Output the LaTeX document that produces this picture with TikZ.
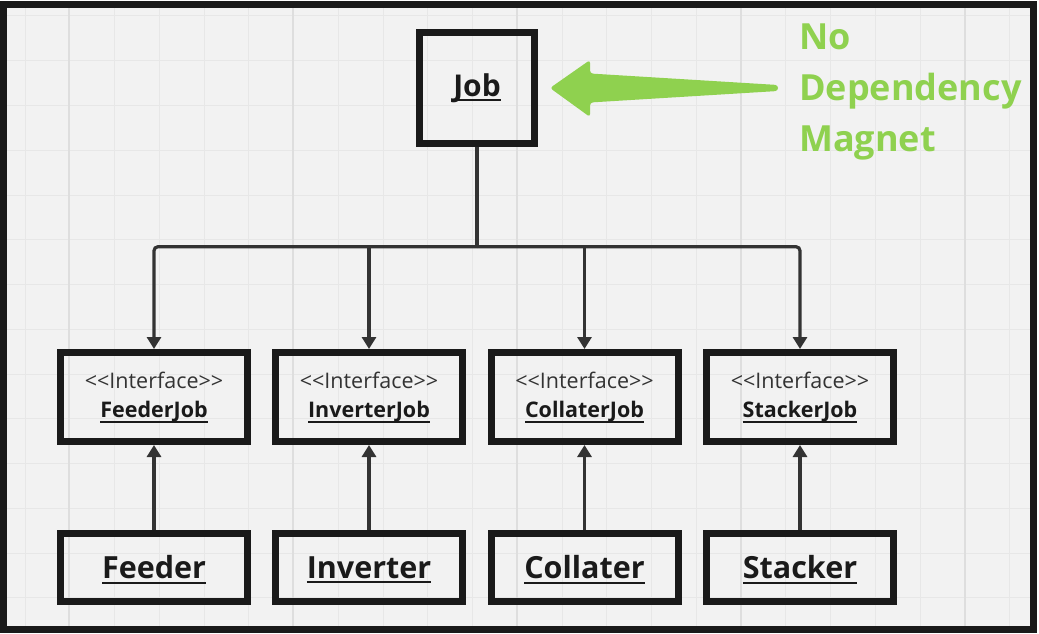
\documentclass[tikz,border=0pt]{standalone}
\usepackage{fontspec}
\setmainfont{Open Sans}
\usetikzlibrary{arrows.meta,calc,positioning}
\definecolor{BoxClr}{HTML}{1A1A1A}
\definecolor{LineClr}{HTML}{333333}
\definecolor{NoteClr}{HTML}{8FD14F}
\definecolor{PaperClr}{HTML}{F2F2F2}
\definecolor{GridClr}{HTML}{E7E7E7}
\definecolor{MajorClr}{HTML}{DEDEDE}
\newcommand{\ulname}[1]{\setbox0\hbox{#1}\rlap{\smash{\rule[-5pt]{\wd0}{2.2pt}}}\box0}
\newcommand{\stereo}{<\kern0pt<Interface>\kern0pt>}

\begin{document}
\begin{tikzpicture}[x=1pt,y=-1pt,
  jobbox/.style={draw=BoxClr,line width=7pt,minimum width=115pt,minimum height=111pt,
    inner sep=0pt,text=BoxClr,font=\fontsize{30}{36}\selectfont\bfseries},
  ifacebox/.style={draw=BoxClr,line width=7pt,minimum width=187pt,minimum height=89pt,
    inner sep=0pt,align=center,text=BoxClr,font=\fontsize{21.5}{29.5}\selectfont},
  implbox/.style={draw=BoxClr,line width=7pt,minimum width=187pt,minimum height=68pt,
    inner sep=0pt,text=BoxClr,font=\fontsize{30.5}{36}\selectfont\bfseries},
  conn/.style={draw=LineClr,line width=3.2pt},
  tip/.style={-{Triangle[width=14pt,length=12pt]}},
  note/.style={text=NoteClr,align=left,inner sep=0pt,font=\fontsize{36}{51}\selectfont\bfseries}]

% paper, grid and frame
\fill[white] (0,0) rectangle (1039,634);
\fill[PaperClr] (3.5,5) rectangle (1033.5,629);
\foreach \x in {0,...,22} \draw[GridClr,line width=1pt] (25+44.75*\x,5) -- (25+44.75*\x,629);
\foreach \y in {0,...,13} \draw[GridClr,line width=1pt] (3.5,16+44.75*\y) -- (1033.5,16+44.75*\y);
\foreach \x in {69,293,517,741,965} \draw[MajorClr,line width=1.2pt] (\x,5) -- (\x,629);
\draw[BoxClr,line width=7pt] (3.5,5) rectangle (1033.5,629);

\node[jobbox] (job) at (477,88) {\ulname{Job}};

\foreach \cls/\x in {Feeder/154,Inverter/369,Collater/584.5,Stacker/800} {
  \node[ifacebox] (\cls Job) at (\x,397) {{\color{LineClr}\stereo}\\{\bfseries\ulname{\cls Job}}};
  \node[implbox,below=85pt of \cls Job] (\cls) {\ulname{\cls}};
  \draw[conn,tip] (\cls.north) -- (\cls Job.south);
}

\coordinate (split) at ($(job.south)+(0,99.7)$);
\draw[conn] (job.south) -- (split);
\draw[conn,tip,rounded corners=4pt] (split) -| (FeederJob.north);
\draw[conn,tip,rounded corners=4pt] (split) -| (StackerJob.north);
\draw[conn,tip] (split -| InverterJob.north) -- (InverterJob.north);
\draw[conn,tip] (split -| CollaterJob.north) -- (CollaterJob.north);

% note and its arrow
\node[note,anchor=west] (magnet) at (799,92) {No\\Dependency\\Magnet};
\coordinate (point) at ([xshift=12pt]job.east);
\coordinate (tail) at (778,88);
\fill[NoteClr,rounded corners=3pt] (point) -- ($(point)+(40,-28)$) -- ($(point)+(40,-14.5)$)
  -- ($(tail)+(0,-3)$) -- ($(tail)+(0,3)$) -- ($(point)+(40,14.5)$) -- ($(point)+(40,29)$) -- cycle;
\end{tikzpicture}
\end{document}
